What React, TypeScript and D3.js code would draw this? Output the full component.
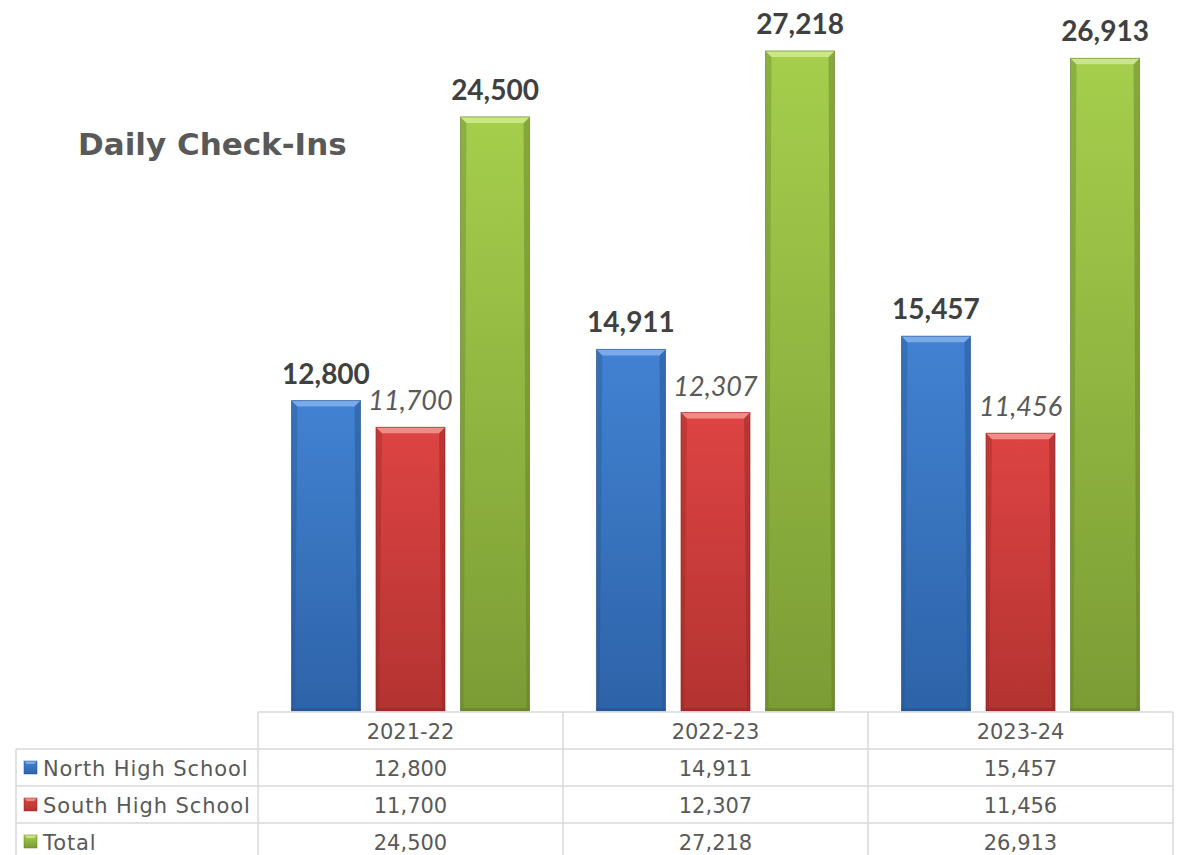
import React from 'react';
import * as d3 from 'd3';

const seasons = ['2021-22', '2022-23', '2023-24'];
const seriesNames = ['North High School', 'South High School', 'Total'];
const northValues = [12800, 14911, 15457];
const southValues = [11700, 12307, 11456];
const totalValues = [24500, 27218, 26913];

const W = 1191;
const H = 855;

interface SeriesStyle {
  key: string;
  face: string;
  top: string;
  bottom: string;
  edge: string;
  bold: boolean;
}

const styles: SeriesStyle[] = [
  { key: 'north', face: '#7aaaea', top: '#4282d2', bottom: '#2d63a8', edge: '#24508a', bold: true },
  { key: 'south', face: '#f28a86', top: '#dd4443', bottom: '#b33331', edge: '#8f2624', bold: false },
  { key: 'total', face: '#c9e884', top: '#a6ce4c', bottom: '#7b9c35', edge: '#5f7a27', bold: true },
];

const allValues = [northValues, southValues, totalValues];

const grid = '#d9d9d9';
const textGray = '#595959';

export default function App() {
  const baseline = 711;
  const y = d3.scaleLinear().domain([0, 30000]).range([baseline, baseline - 727.5]);
  const x = d3.scaleBand<string>().domain(seasons).range([258, 1173]).paddingInner(0).paddingOuter(0);
  const inner = d3
    .scaleBand<string>()
    .domain(seriesNames)
    .range([0, x.bandwidth()])
    .paddingInner(0.183)
    .paddingOuter(0.396);
  const fmt = d3.format(',');

  const tableTop = 712;
  const rowH = 37;
  const tableLeft = 16;
  const tableRight = 1173;
  const rowY = (i: number) => tableTop + rowH * i;

  const bevel = 6;

  return (
    <svg
      width={W}
      height={H}
      style={{ position: 'absolute', left: 0, top: 0, background: '#fff' }}
    >
      <defs>
        {styles.map((s) => (
          <linearGradient key={s.key} id={`grad-${s.key}`} x1="0" x2="0" y1="0" y2="1">
            <stop offset="0%" stopColor={s.top} />
            <stop offset="100%" stopColor={s.bottom} />
          </linearGradient>
        ))}
      </defs>

      <text
        x={78}
        y={155}
        fontFamily="DejaVu Sans, sans-serif"
        fontWeight="bold"
        fontSize={31}
        fill={textGray}
      >
        Daily Check-Ins
      </text>

      {/* bars */}
      {seasons.map((season, si) => (
        <g key={season} transform={`translate(${x(season)},0)`}>
          {seriesNames.map((name, k) => {
            const v = allValues[k][si];
            const st = styles[k];
            const bx = inner(name) as number;
            const bw = inner.bandwidth();
            const by = y(v);
            const bh = baseline - by;
            const cx = bx + bw / 2;
            return (
              <g key={name}>
                <rect x={bx} y={by} width={bw} height={bh} fill={`url(#grad-${st.key})`} />
                {/* side edges */}
                <polygon
                  points={`${bx},${by} ${bx + bevel},${by + bevel} ${bx + bevel * 0.5},${baseline - 3} ${bx},${baseline}`}
                  fill={st.edge}
                  opacity={0.35}
                />
                <polygon
                  points={`${bx + bw},${by} ${bx + bw - bevel},${by + bevel} ${bx + bw - bevel * 0.5},${baseline - 3} ${bx + bw},${baseline}`}
                  fill={st.edge}
                  opacity={0.45}
                />
                {/* bottom edge */}
                <rect x={bx} y={baseline - 3} width={bw} height={3} fill={st.edge} opacity={0.5} />
                {/* top bevel face */}
                <polygon
                  points={`${bx},${by} ${bx + bw},${by} ${bx + bw - bevel},${by + bevel} ${bx + bevel},${by + bevel}`}
                  fill={st.face}
                />
                <rect
                  x={bx}
                  y={by}
                  width={bw}
                  height={bh}
                  fill="none"
                  stroke={st.edge}
                  strokeOpacity={0.6}
                  strokeWidth={1}
                />
                <text
                  x={cx}
                  y={by - 17}
                  textAnchor="middle"
                  fontFamily="Lato, sans-serif"
                  fontWeight={st.bold ? 'bold' : 'normal'}
                  fontStyle={st.bold ? 'normal' : 'italic'}
                  fontSize={st.bold ? 28 : 27}
                  fill={st.bold ? '#404040' : textGray}
                >
                  {fmt(v)}
                </text>
              </g>
            );
          })}
        </g>
      ))}

      {/* data table */}
      <g stroke={grid} strokeWidth={1.5} fill="none">
        <line x1={258} x2={tableRight} y1={rowY(0)} y2={rowY(0)} />
        {[1, 2, 3, 4].map((r) => (
          <line key={r} x1={tableLeft} x2={tableRight} y1={rowY(r)} y2={rowY(r)} />
        ))}
        <line x1={tableLeft} x2={tableLeft} y1={rowY(1)} y2={H} />
        {seasons.map((s) => (
          <line key={s} x1={x(s)} x2={x(s)} y1={rowY(0)} y2={H} />
        ))}
        <line x1={tableRight} x2={tableRight} y1={rowY(0)} y2={H} />
      </g>

      <g fontFamily="DejaVu Sans, sans-serif" fontSize={21} fill={textGray}>
        {seasons.map((s) => (
          <text key={s} x={(x(s) as number) + x.bandwidth() / 2} y={rowY(0) + rowH / 2 + 8} textAnchor="middle">
            {s}
          </text>
        ))}
        {seriesNames.map((name, k) => {
          const st = styles[k];
          const cy = rowY(k + 1) + rowH / 2;
          return (
            <g key={name}>
              <rect x={24} y={cy - 6.5} width={13} height={13} fill={`url(#grad-${st.key})`} />
              <polygon points={`24,${cy - 6.5} 37,${cy - 6.5} 34,${cy - 3.5} 27,${cy - 3.5}`} fill={st.face} />
              <rect x={24} y={cy - 6.5} width={13} height={13} fill="none" stroke={st.edge} strokeOpacity={0.6} strokeWidth={0.8} />
              <text x={43} y={cy + 8} letterSpacing={0.9}>
                {name}
              </text>
              {seasons.map((s, si) => (
                <text key={s} x={(x(s) as number) + x.bandwidth() / 2} y={cy + 8} textAnchor="middle">
                  {fmt(allValues[k][si])}
                </text>
              ))}
            </g>
          );
        })}
      </g>
    </svg>
  );
}
